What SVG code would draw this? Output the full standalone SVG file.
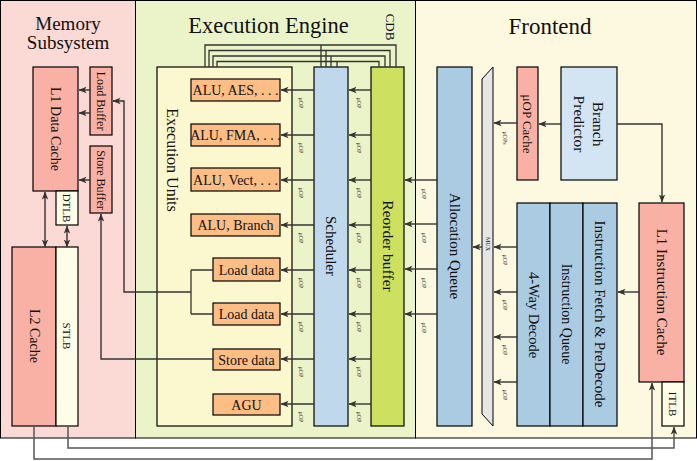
<svg xmlns="http://www.w3.org/2000/svg" width="697" height="461" viewBox="0 0 697 461">
<defs>
<marker id="ah" viewBox="0 0 8 8" refX="7.5" refY="4" markerWidth="8" markerHeight="8" markerUnits="userSpaceOnUse" orient="auto-start-reverse">
<path d="M0,0.8 L8,4 L0,7.2 L2,4 z" fill="#333"/>
</marker>
<style>
text{font-family:"Liberation Serif","Times New Roman",serif;fill:#111}
.box{stroke:#000;stroke-width:1.2}
.salmon{fill:#f9b1a5}
.cream{fill:#fdfde8}
.orange{fill:#fdbe85}
.blue{fill:#abcbe3}
.arr{fill:none;stroke:#333;stroke-width:1.4;marker-end:url(#ah)}
.ln{fill:none;stroke:#333;stroke-width:1.3}
.gl{fill:none;stroke:#555;stroke-width:1.5}
.t14{font-size:14px}
.t15{font-size:15px}
.t12{font-size:12px}
.t11{font-size:11px}
.mu{font-size:6px;fill:#333}
.v{text-anchor:middle;dominant-baseline:central}
</style>
</defs>

<!-- panels -->
<g id="panels">
<rect x="0.5" y="0.5" width="135" height="437.5" fill="#fbd9d5" stroke="#000"/>
<rect x="135.5" y="0.5" width="280" height="437.5" fill="#ebf4c9" stroke="#000"/>
<rect x="415.5" y="0.5" width="281" height="437.5" fill="#fcf9e0" stroke="#000"/>
<text x="68" y="30" font-size="19" text-anchor="middle">Memory</text>
<text x="68" y="49" font-size="19" text-anchor="middle">Subsystem</text>
<text x="268.5" y="33" font-size="22.5" text-anchor="middle">Execution Engine</text>
<text x="550" y="34" font-size="23" text-anchor="middle">Frontend</text>
<text transform="translate(390,27) rotate(90)" class="v" font-size="13">CDB</text>
</g>

<!-- memory subsystem -->
<g id="l1d"><rect class="box salmon" x="33" y="67" width="45" height="124"/><text class="t14 v" transform="translate(55,129) rotate(90)">L1 Data Cache</text></g>
<g id="loadbuf"><rect class="box salmon" x="90" y="67" width="22" height="68"/><text class="t12 v" transform="translate(101,101) rotate(90)">Load Buffer</text></g>
<g id="storebuf"><rect class="box salmon" x="90" y="146" width="22" height="67"/><text class="t12 v" transform="translate(101,180) rotate(90)">Store Buffer</text></g>
<g id="dtlb"><rect class="box cream" x="56" y="191" width="22" height="34"/><text class="t11 v" transform="translate(67,208) rotate(90)">DTLB</text></g>
<g id="l2"><rect class="box salmon" x="12" y="247" width="44" height="179"/><text class="t14 v" transform="translate(34,336) rotate(90)">L2 Cache</text></g>
<g id="stlb"><rect class="box cream" x="56" y="247" width="22" height="179"/><text class="t11 v" transform="translate(67,336) rotate(90)">STLB</text></g>

<!-- execution engine -->
<g id="eu"><rect class="box" fill="#fbf8cf" x="157" y="67" width="135" height="359"/><text class="v" font-size="16" transform="translate(172,160) rotate(90)">Execution Units</text></g>
<g id="alu1"><rect class="box orange" x="191" y="79" width="89" height="22"/><text class="t14" x="235.5" y="95" text-anchor="middle">ALU, AES, . . .</text></g>
<g id="alu2"><rect class="box orange" x="191" y="124" width="89" height="22"/><text class="t14" x="235.5" y="140" text-anchor="middle">ALU, FMA, . . .</text></g>
<g id="alu3"><rect class="box orange" x="191" y="168" width="89" height="23"/><text class="t14" x="235.5" y="184.5" text-anchor="middle">ALU, Vect, . . .</text></g>
<g id="alu4"><rect class="box orange" x="191" y="214" width="89" height="22"/><text class="t14" x="235.5" y="230" text-anchor="middle">ALU, Branch</text></g>
<g id="load1"><rect class="box orange" x="213" y="258" width="67" height="23"/><text class="t14" x="246.5" y="274.5" text-anchor="middle">Load data</text></g>
<g id="load2"><rect class="box orange" x="213" y="303" width="67" height="22"/><text class="t14" x="246.5" y="319" text-anchor="middle">Load data</text></g>
<g id="store"><rect class="box orange" x="213" y="349" width="67" height="21"/><text class="t14" x="246.5" y="364.5" text-anchor="middle">Store data</text></g>
<g id="agu"><rect class="box orange" x="213" y="394" width="67" height="21"/><text class="t14" x="246.5" y="409.5" text-anchor="middle">AGU</text></g>
<g id="sched"><rect class="box" fill="#c0d8ec" x="314" y="67" width="34" height="359"/><text class="t15 v" transform="translate(331,246) rotate(90)">Scheduler</text></g>
<g id="rob"><rect class="box" fill="#cde060" x="371" y="67" width="33" height="359"/><text class="v" font-size="15.5" transform="translate(388,246) rotate(90)">Reorder buffer</text></g>

<!-- frontend -->
<g id="allocq"><rect class="box blue" x="437" y="67" width="35" height="359"/><text class="t15 v" transform="translate(455,246) rotate(90)">Allocation Queue</text></g>
<g id="mux"><path d="M482,79 L493,67 L493,426 L482,414 z" fill="#e6e6e6" stroke="#000" stroke-width="1"/><text class="v" font-size="6" transform="translate(487.5,244) rotate(90)">MUX</text></g>
<g id="uopcache"><rect class="box salmon" x="517" y="67" width="21" height="113"/><text class="v" font-size="13" transform="translate(527.5,124) rotate(90)">μOP Cache</text></g>
<g id="bp"><rect class="box" fill="#d3e4f3" x="561" y="67" width="56" height="113"/><text class="v" font-size="15.5" transform="translate(598,124) rotate(90)">Branch</text><text class="v" font-size="15.5" transform="translate(579,124) rotate(90)">Predictor</text></g>
<g id="decode"><rect class="box blue" x="517" y="203" width="33" height="223"/><text class="v" font-size="14.5" transform="translate(533.5,315) rotate(90)">4-Way Decode</text></g>
<g id="iq"><rect class="box blue" x="550" y="203" width="33" height="223"/><text class="t14 v" transform="translate(566.5,314) rotate(90)">Instruction Queue</text></g>
<g id="fetch"><rect class="box blue" x="583" y="203" width="34" height="223"/><text class="t15 v" transform="translate(600,314) rotate(90)">Instruction Fetch &amp; PreDecode</text></g>
<g id="l1i"><rect class="box salmon" x="639" y="203" width="45" height="179"/><text class="t15 v" transform="translate(661.5,292) rotate(90)">L1 Instruction Cache</text></g>
<g id="itlb"><rect class="box cream" x="662" y="382" width="22" height="44"/><text class="t11 v" transform="translate(673,404) rotate(90)">ITLB</text></g>

<!-- connectors -->
<g id="connectors">
<path class="arr" d="M90,90 H79"/>
<path class="arr" d="M90,113 H79"/>
<path class="arr" d="M90,180 H79"/>
<path class="arr" d="M45,247 V192" style="marker-start:url(#ah)"/>
<path class="arr" d="M67,247 V226" style="marker-start:url(#ah)"/>
<path class="arr" d="M191,292 H124 V101 H113"/>
<path class="arr" d="M213,359 H101 V214"/>
<path class="ln" d="M191,270 V314 M191,270 H213 M191,314 H213"/>
<path class="ln" d="M205,67 V45 H396 V67 M321,45 V67"/>
<path class="ln" d="M209,67 V50.5 H390 V67 M326,50.5 V67"/>
<path class="ln" d="M213,67 V56 H385 V67 M331,56 V67"/>
<path class="ln" d="M217,67 V61.5 H379 V67 M337,61.5 V67"/>
<path class="arr" d="M314,90 H281"/>
<path class="arr" d="M314,135 H281"/>
<path class="arr" d="M314,180 H281"/>
<path class="arr" d="M314,225 H281"/>
<path class="arr" d="M314,270 H281"/>
<path class="arr" d="M314,314 H281"/>
<path class="arr" d="M314,359 H281"/>
<path class="arr" d="M314,404 H281"/>
<path class="arr" d="M371,90 H349"/>
<path class="arr" d="M371,135 H349"/>
<path class="arr" d="M371,180 H349"/>
<path class="arr" d="M371,225 H349"/>
<path class="arr" d="M371,270 H349"/>
<path class="arr" d="M371,314 H349"/>
<path class="arr" d="M371,359 H349"/>
<path class="arr" d="M371,404 H349"/>
<path class="arr" d="M437,180 H405"/>
<path class="arr" d="M437,224 H405"/>
<path class="arr" d="M437,269 H405"/>
<path class="arr" d="M437,314 H405"/>
<path class="arr" d="M482,247 H473"/>
<path class="arr" d="M517,123 H494"/>
<path class="arr" d="M517,247 H494"/>
<path class="arr" d="M517,292 H494"/>
<path class="arr" d="M517,337 H494"/>
<path class="arr" d="M517,382 H494"/>
<path class="arr" d="M561,124 H539"/>
<path class="arr" d="M617,124 H662 V202"/>
<path class="arr" d="M639,292 H618"/>
<path class="gl" d="M68,426 V448 H674 V427" style="marker-end:url(#ah)"/>
<path class="gl" d="M34,426 V459 H652 V383" style="marker-end:url(#ah)"/>
</g>

<!-- uOP labels -->
<g id="labels">
<text class="mu v" transform="translate(301,103) rotate(90)">μOP</text>
<text class="mu v" transform="translate(301,148) rotate(90)">μOP</text>
<text class="mu v" transform="translate(301,193) rotate(90)">μOP</text>
<text class="mu v" transform="translate(301,238) rotate(90)">μOP</text>
<text class="mu v" transform="translate(301,283) rotate(90)">μOP</text>
<text class="mu v" transform="translate(301,327) rotate(90)">μOP</text>
<text class="mu v" transform="translate(301,372) rotate(90)">μOP</text>
<text class="mu v" transform="translate(301,417) rotate(90)">μOP</text>
<text class="mu v" transform="translate(359,103) rotate(90)">μOP</text>
<text class="mu v" transform="translate(359,148) rotate(90)">μOP</text>
<text class="mu v" transform="translate(359,193) rotate(90)">μOP</text>
<text class="mu v" transform="translate(359,238) rotate(90)">μOP</text>
<text class="mu v" transform="translate(359,283) rotate(90)">μOP</text>
<text class="mu v" transform="translate(359,327) rotate(90)">μOP</text>
<text class="mu v" transform="translate(359,372) rotate(90)">μOP</text>
<text class="mu v" transform="translate(359,417) rotate(90)">μOP</text>
<text class="mu v" transform="translate(424,194) rotate(90)">μOP</text>
<text class="mu v" transform="translate(424,238) rotate(90)">μOP</text>
<text class="mu v" transform="translate(424,283) rotate(90)">μOP</text>
<text class="mu v" transform="translate(424,328) rotate(90)">μOP</text>
<text class="mu v" transform="translate(505,138) rotate(90)">μOPs</text>
<text class="mu v" transform="translate(505,260) rotate(90)">μOP</text>
<text class="mu v" transform="translate(505,305) rotate(90)">μOP</text>
<text class="mu v" transform="translate(505,350) rotate(90)">μOP</text>
<text class="mu v" transform="translate(505,395) rotate(90)">μOP</text>
</g>
</svg>
